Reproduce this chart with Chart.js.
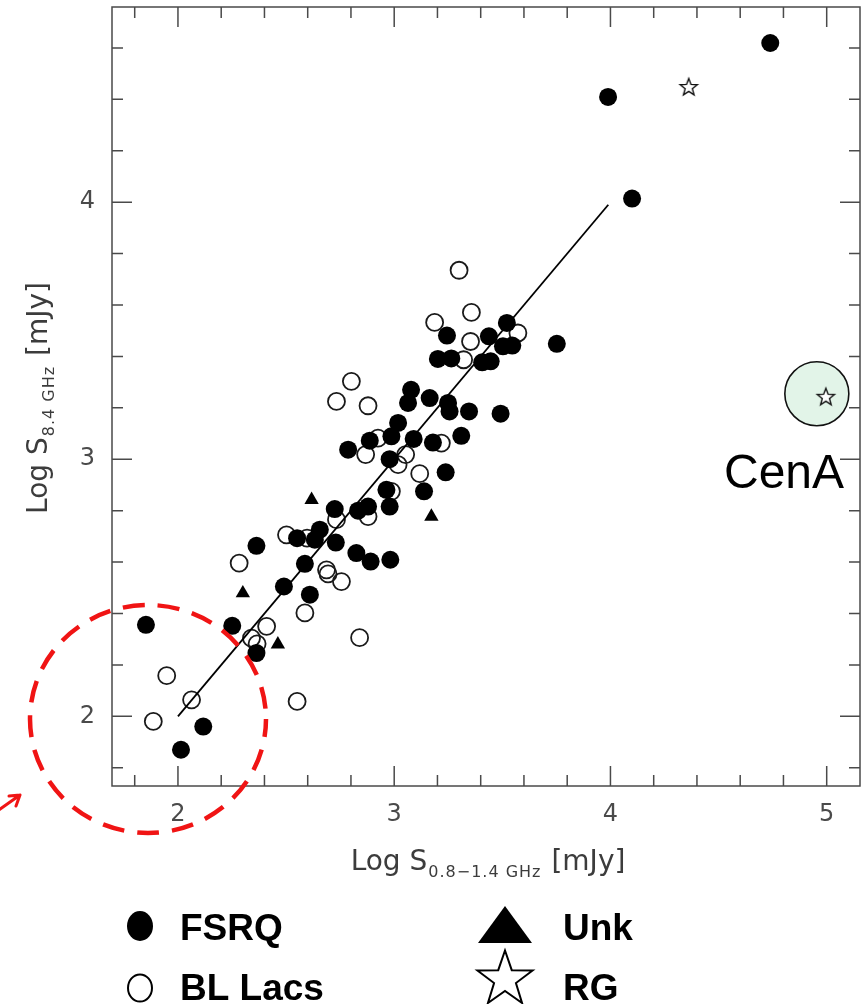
<!DOCTYPE html>
<html>
<head>
<meta charset="utf-8">
<script src="https://cdn.jsdelivr.net/npm/chart.js@4.4.1/dist/chart.umd.min.js"></script>
<style>
  html, body { margin: 0; padding: 0; background: #fff; }
  #wrap { position: relative; width: 862px; height: 1004px; }
</style>
</head>
<body>
<div id="wrap"><canvas id="chart" width="862" height="1004"></canvas></div>
<script>
// axis ranges and labelled ticks
const X_RANGE = [1.695, 5.154];
const Y_RANGE = [1.729, 4.759];
const X_TICKS = [2, 3, 4, 5];
const Y_TICKS = [2, 3, 4];

// [log S(0.8-1.4 GHz), log S(8.4 GHz)]
const FSRQ = [
  [1.852, 2.356], [2.251, 2.352], [2.363, 2.246], [2.117, 1.960], [2.014, 1.870],
  [2.725, 2.806], [2.833, 2.800], [2.879, 2.816], [2.964, 2.881], [2.979, 2.816],
  [2.656, 2.726], [2.551, 2.693], [2.633, 2.687], [2.730, 2.676], [2.363, 2.663],
  [2.587, 2.593], [2.825, 2.635], [2.891, 2.602], [2.982, 2.609], [2.490, 2.505],
  [2.610, 2.473], [3.078, 3.270], [3.064, 3.219], [3.164, 3.238], [3.249, 3.219],
  [3.256, 3.186], [3.018, 3.141], [2.987, 3.089], [2.887, 3.072], [3.090, 3.079],
  [3.179, 3.065], [3.310, 3.091], [2.787, 3.037], [2.979, 3.000], [3.238, 2.949],
  [3.138, 2.875], [3.244, 3.481], [3.521, 3.530], [3.438, 3.478], [3.503, 3.439],
  [3.546, 3.442], [3.202, 3.390], [3.264, 3.392], [3.407, 3.377], [3.446, 3.381],
  [3.752, 3.449], [3.346, 3.186], [3.492, 3.177], [3.989, 4.409], [4.739, 4.619],
  [4.100, 4.014]
];
const BL_LACS = [
  [2.410, 2.350], [2.340, 2.304], [2.366, 2.282], [2.587, 2.402], [1.948, 2.158],
  [2.063, 2.064], [1.886, 1.980], [2.551, 2.058], [2.733, 2.765], [2.879, 2.777],
  [2.987, 2.875], [2.502, 2.706], [2.597, 2.693], [2.283, 2.596], [2.687, 2.570],
  [2.694, 2.554], [2.756, 2.524], [2.840, 2.306], [2.802, 3.303], [2.733, 3.225],
  [2.879, 3.208], [2.925, 3.082], [3.218, 3.063], [2.868, 3.018], [3.053, 3.018],
  [3.018, 2.979], [3.118, 2.944], [3.300, 3.735], [3.357, 3.571], [3.187, 3.532],
  [3.572, 3.491], [3.353, 3.458], [3.321, 3.387]
];
const UNK = [[2.462, 2.280], [2.618, 2.842], [2.300, 2.479], [3.172, 2.777]];
const RG = [[4.362, 4.448], [4.996, 3.243]];
const FIT_LINE = [[2.0, 2.0], [3.99, 3.99]];

const toXY = arr => arr.map(([x, y]) => ({ x, y }));

// outlined five point star used as a point style
function starPath(ctx, cx, cy, R, r) {
  ctx.beginPath();
  for (let i = 0; i < 10; i++) {
    const rad = (i % 2 ? r : R);
    const a = -Math.PI / 2 + i * Math.PI / 5;
    const px = cx + rad * Math.cos(a), py = cy + rad * Math.sin(a);
    if (i === 0) ctx.moveTo(px, py); else ctx.lineTo(px, py);
  }
  ctx.closePath();
}
const starImg = document.createElement('canvas');
starImg.width = 22; starImg.height = 22;
(() => {
  const c = starImg.getContext('2d');
  starPath(c, 11, 11.5, 9, 3.8);
  c.fillStyle = '#fff';
  c.fill();
  c.lineWidth = 1.4;
  c.strokeStyle = '#111';
  c.stroke();
})();

// axis title with a subscript, drawn at the current origin along +x
function drawTitle(ctx, main1, sub, main2, cx, baseline) {
  const fMain = "28px 'DejaVu Sans'";
  const fSub = "16px 'DejaVu Sans'";
  ctx.font = fMain; const w1 = ctx.measureText(main1).width;
  const w3 = ctx.measureText(main2).width;
  ctx.font = fSub; ctx.letterSpacing = '1px';
  const w2 = ctx.measureText(sub).width;
  ctx.letterSpacing = '0px';
  let x = cx - (w1 + w2 + w3 + 2) / 2;
  ctx.textBaseline = 'alphabetic';
  ctx.textAlign = 'left';
  ctx.font = fMain; ctx.fillText(main1, x, baseline); x += w1 + 1;
  ctx.font = fSub; ctx.letterSpacing = '1px'; ctx.fillText(sub, x, baseline + 7); x += w2 + 1;
  ctx.letterSpacing = '0px';
  ctx.font = fMain; ctx.fillText(main2, x, baseline);
}

const frameTicks = {
  id: 'frameTicks',
  afterDraw(chart) {
    const { ctx, chartArea: a, scales: { x, y } } = chart;
    ctx.save();
    ctx.strokeStyle = '#4a4a4a';
    ctx.lineWidth = 1.5;
    ctx.strokeRect(a.left, a.top, a.right - a.left, a.bottom - a.top);
    ctx.beginPath();
    for (let i = 9; i <= 25; i++) {
      const len = i % 5 === 0 ? 20 : 11;
      const px = x.getPixelForValue(i / 5);
      ctx.moveTo(px, a.bottom); ctx.lineTo(px, a.bottom - len);
      ctx.moveTo(px, a.top); ctx.lineTo(px, a.top + len);
    }
    for (let i = 9; i <= 23; i++) {
      const len = i % 5 === 0 ? 20 : 11;
      const py = y.getPixelForValue(i / 5);
      ctx.moveTo(a.left, py); ctx.lineTo(a.left + len, py);
      ctx.moveTo(a.right, py); ctx.lineTo(a.right - len, py);
    }
    ctx.stroke();
    ctx.restore();
  }
};

const annotations = {
  id: 'annotations',
  beforeDatasetsDraw(chart) {
    const { ctx, scales: { x, y } } = chart;
    // highlight around Cen A
    const cx = x.getPixelForValue(RG[1][0]) - 9;
    const cy = y.getPixelForValue(RG[1][1]) - 3;
    ctx.save();
    ctx.beginPath();
    ctx.arc(cx, cy, 32, 0, Math.PI * 2);
    ctx.fillStyle = '#e2f4e8';
    ctx.fill();
    ctx.lineWidth = 1.6;
    ctx.strokeStyle = '#111';
    ctx.stroke();
    ctx.restore();
  },
  afterDraw(chart) {
    const { ctx } = chart;
    ctx.save();
    // red dashed ring
    ctx.beginPath();
    ctx.ellipse(148, 719, 118, 114, 0, 0, Math.PI * 2);
    ctx.setLineDash([22, 13]);
    ctx.lineDashOffset = 4;
    ctx.lineWidth = 4.5;
    ctx.strokeStyle = '#f01414';
    ctx.stroke();
    ctx.setLineDash([]);
    // small red arrow at the lower left
    ctx.lineWidth = 3;
    ctx.lineCap = 'round';
    ctx.beginPath();
    ctx.moveTo(-4, 812); ctx.lineTo(20, 795);
    ctx.moveTo(20, 795); ctx.lineTo(9, 796);
    ctx.moveTo(20, 795); ctx.lineTo(16, 806);
    ctx.stroke();

    // Cen A label
    ctx.fillStyle = '#000';
    ctx.font = "48px 'Liberation Sans', Arial, sans-serif";
    ctx.textAlign = 'left';
    ctx.textBaseline = 'alphabetic';
    ctx.fillText('CenA', 724, 488);

    // axis titles
    ctx.fillStyle = '#3c3c3c';
    drawTitle(ctx, 'Log S', '0.8\u22121.4 GHz', ' [mJy]', 488, 870);
    ctx.save();
    ctx.translate(47, 398);
    ctx.rotate(-Math.PI / 2);
    drawTitle(ctx, 'Log S', '8.4 GHz', ' [mJy]', 0, 0);
    ctx.restore();

    // legend
    ctx.fillStyle = '#000';
    ctx.strokeStyle = '#000';
    ctx.beginPath();
    ctx.ellipse(140, 926, 13, 15, 0, 0, Math.PI * 2);
    ctx.fill();
    ctx.beginPath();
    ctx.ellipse(140, 988, 12, 13.5, 0, 0, Math.PI * 2);
    ctx.lineWidth = 2;
    ctx.stroke();
    ctx.beginPath();
    ctx.moveTo(505, 906); ctx.lineTo(532, 943); ctx.lineTo(478, 943);
    ctx.closePath();
    ctx.fill();
    starPath(ctx, 505, 979.5, 29, 11.5);
    ctx.lineWidth = 2;
    ctx.lineJoin = 'miter';
    ctx.stroke();
    ctx.font = "bold 37px 'Liberation Sans', Arial, sans-serif";
    ctx.fillText('FSRQ', 180, 940);
    ctx.fillText('BL Lacs', 180, 1000);
    ctx.fillText('Unk', 563, 940);
    ctx.fillText('RG', 563, 1000);
    ctx.restore();
  }
};

const tickFont = { family: "'DejaVu Sans', sans-serif", size: 24 };

new Chart(document.getElementById('chart'), {
  type: 'scatter',
  data: {
    datasets: [
      {
        type: 'line', label: 'fit', data: toXY(FIT_LINE),
        borderColor: '#000', borderWidth: 1.8, pointRadius: 0, fill: false, order: -1
      },
      {
        label: 'FSRQ', data: toXY(FSRQ), pointStyle: 'circle', pointRadius: 9,
        backgroundColor: '#000', borderColor: '#000', borderWidth: 0, order: 0
      },
      {
        label: 'BL Lacs', data: toXY(BL_LACS), pointStyle: 'circle', pointRadius: 8.5,
        backgroundColor: 'rgba(255,255,255,0)', borderColor: '#1a1a1a', borderWidth: 1.8, order: 1
      },
      {
        label: 'Unk', data: toXY(UNK), pointStyle: 'triangle', pointRadius: 8.3,
        backgroundColor: '#000', borderColor: '#000', borderWidth: 0, order: 2
      },
      {
        label: 'RG', data: toXY(RG), pointStyle: starImg, order: 3
      }
    ]
  },
  options: {
    responsive: false,
    animation: false,
    events: [],
    layout: { autoPadding: false, padding: { top: 7, right: 2, left: 0, bottom: 0 } },
    plugins: { legend: { display: false }, tooltip: { enabled: false } },
    scales: {
      x: {
        type: 'linear', min: X_RANGE[0], max: X_RANGE[1],
        afterBuildTicks: s => { s.ticks = X_TICKS.map(v => ({ value: v })); },
        afterFit: s => { s.height = 218; s.paddingLeft = 0; s.paddingRight = 0; },
        grid: { display: false, drawTicks: false },
        border: { display: false },
        ticks: { font: tickFont, color: '#4a4a4a', padding: 14, maxRotation: 0 }
      },
      y: {
        type: 'linear', min: Y_RANGE[0], max: Y_RANGE[1],
        afterBuildTicks: s => { s.ticks = Y_TICKS.map(v => ({ value: v })); },
        afterFit: s => { s.width = 112; s.paddingTop = 0; s.paddingBottom = 0; },
        grid: { display: false, drawTicks: false },
        border: { display: false },
        ticks: { font: tickFont, color: '#4a4a4a', padding: 17 }
      }
    }
  },
  plugins: [frameTicks, annotations]
});
</script>
</body>
</html>
